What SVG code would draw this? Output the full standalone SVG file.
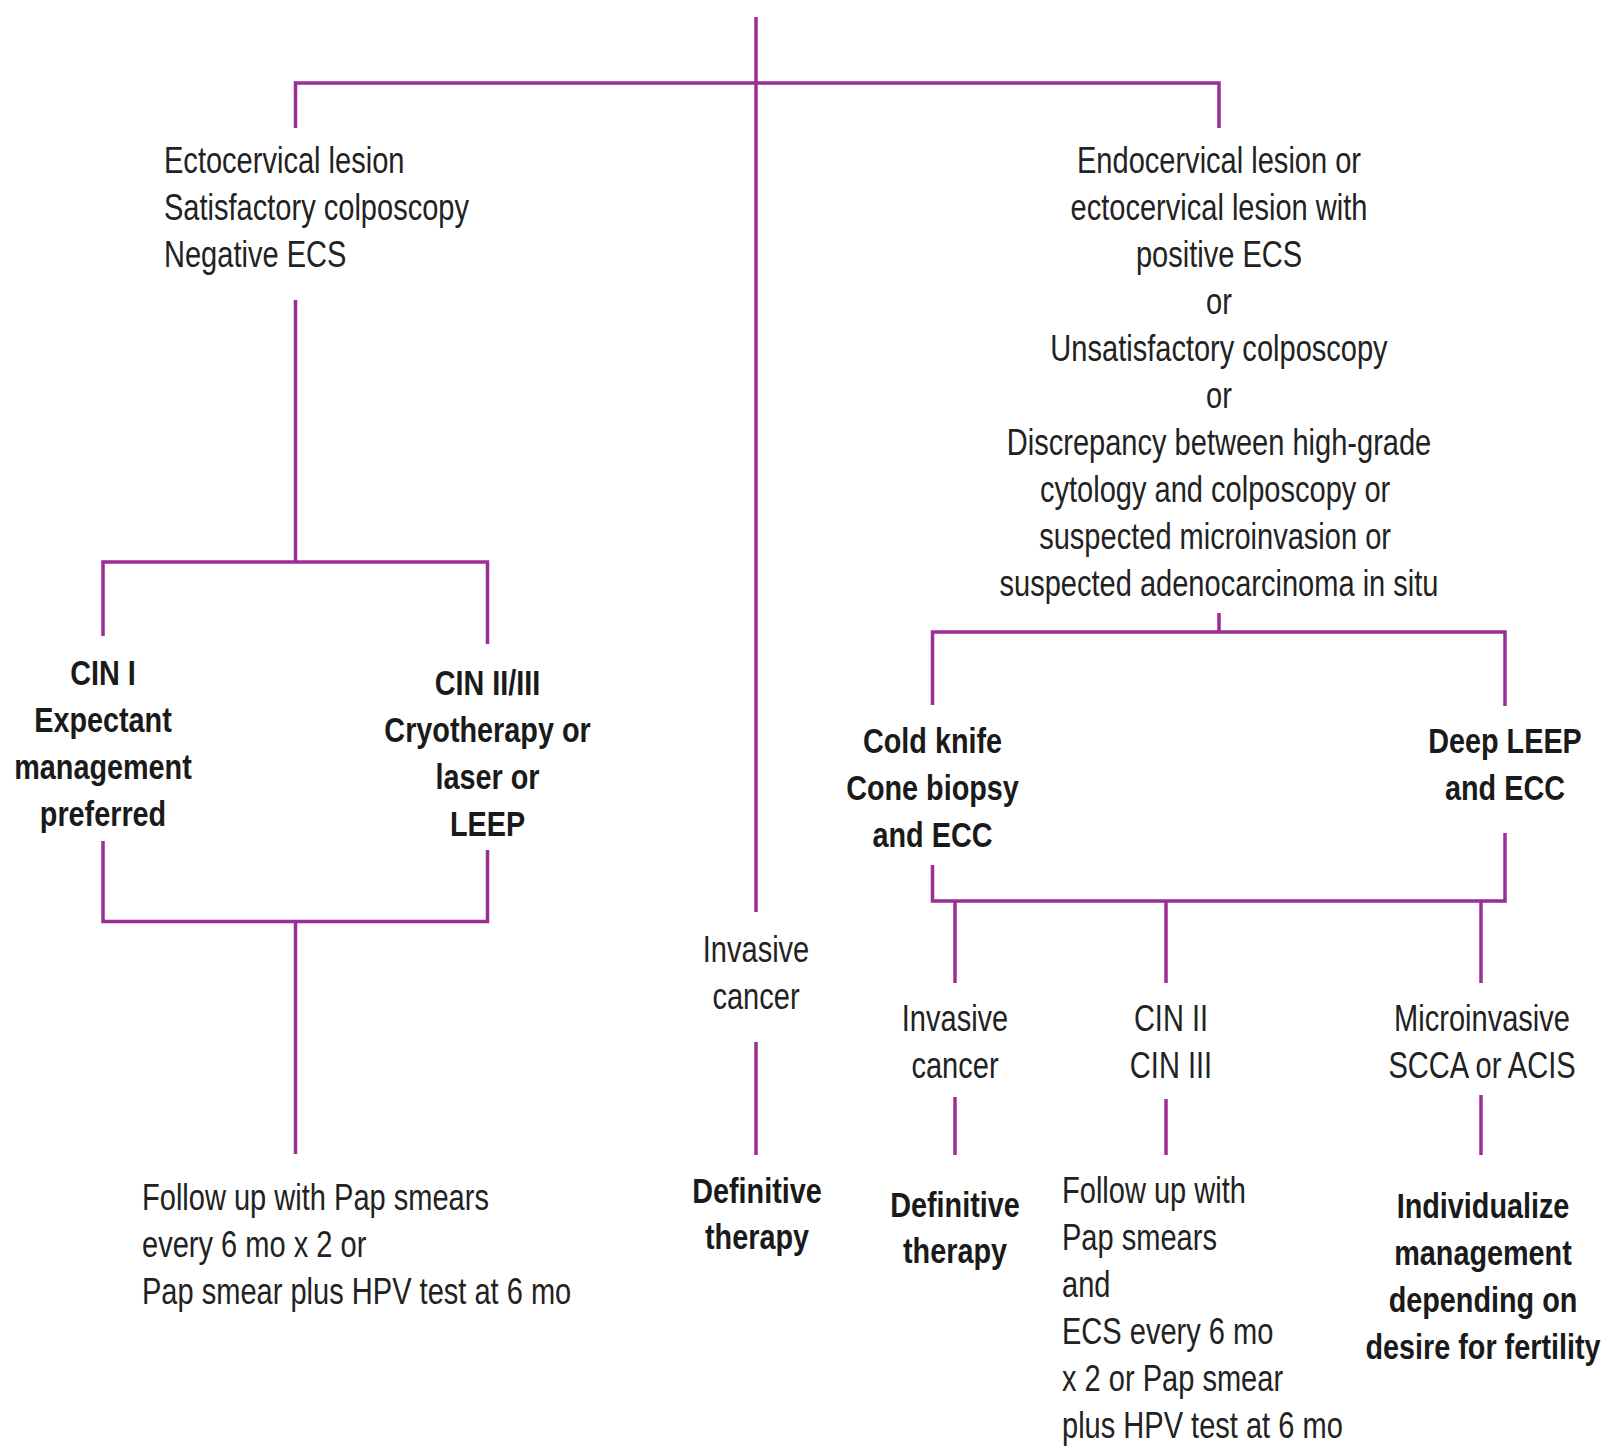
<svg xmlns="http://www.w3.org/2000/svg" width="1609" height="1448" viewBox="0 0 1609 1448">
<style>
.ln{fill:none;stroke:#9b2d96;stroke-width:3.5;stroke-linecap:butt;stroke-linejoin:miter}
.r{font-family:"Liberation Sans",Arial,sans-serif;font-size:37px;fill:#222}
.b{font-family:"Liberation Sans",Arial,sans-serif;font-size:36px;font-weight:bold;fill:#1a1a1a}
.c{text-anchor:middle}
</style>
<rect width="1609" height="1448" fill="#fff"/>
<g id="connectors">
<path class="ln" d="M756,17 V912"/>
<path class="ln" d="M295.5,128 V83 H1219 V128"/>
<path class="ln" d="M295.5,300 V562"/>
<path class="ln" d="M103,636 V562 H487.5 V644"/>
<path class="ln" d="M103,841 V921.5 H487.5 V850"/>
<path class="ln" d="M295.5,921.5 V1154"/>
<path class="ln" d="M756,1042 V1155"/>
<path class="ln" d="M1219,613 V632"/>
<path class="ln" d="M932.5,705 V632 H1505 V706"/>
<path class="ln" d="M932.5,865 V901 H1505 V833"/>
<path class="ln" d="M955,901 V983"/>
<path class="ln" d="M1166,901 V983"/>
<path class="ln" d="M1481,901 V983"/>
<path class="ln" d="M955,1097 V1155"/>
<path class="ln" d="M1166,1099 V1155"/>
<path class="ln" d="M1481,1095 V1155"/>
</g>
<g id="ectocervical">
<text class="r" transform="translate(164,0) scale(0.785 1)"><tspan x="0" y="173">Ectocervical lesion</tspan><tspan x="0" y="220">Satisfactory colposcopy</tspan><tspan x="0" y="267">Negative ECS</tspan></text>
</g>
<g id="endocervical">
<text class="r c" transform="translate(1219,0) scale(0.785 1)"><tspan x="0" y="173">Endocervical lesion or</tspan><tspan x="0" y="220">ectocervical lesion with</tspan><tspan x="0" y="267">positive ECS</tspan><tspan x="0" y="314">or</tspan><tspan x="0" y="361">Unsatisfactory colposcopy</tspan><tspan x="0" y="408">or</tspan><tspan x="0" y="455">Discrepancy between high-grade</tspan><tspan x="-5" y="502">cytology and colposcopy or</tspan><tspan x="-5" y="549">suspected microinvasion or</tspan><tspan x="0" y="596">suspected adenocarcinoma in situ</tspan></text>
</g>
<g id="cin1">
<text class="b c" transform="translate(103,0) scale(0.8 1)"><tspan x="0" y="685">CIN I</tspan><tspan x="0" y="732">Expectant</tspan><tspan x="0" y="779">management</tspan><tspan x="0" y="826">preferred</tspan></text>
</g>
<g id="cin23">
<text class="b c" transform="translate(487.5,0) scale(0.8 1)"><tspan x="0" y="695">CIN II/III</tspan><tspan x="0" y="742">Cryotherapy or</tspan><tspan x="0" y="789">laser or</tspan><tspan x="0" y="836">LEEP</tspan></text>
</g>
<g id="followup-left">
<text class="r" transform="translate(142,0) scale(0.785 1)"><tspan x="0" y="1210">Follow up with Pap smears</tspan><tspan x="0" y="1257">every 6 mo x 2 or</tspan><tspan x="0" y="1304">Pap smear plus HPV test at 6 mo</tspan></text>
</g>
<g id="invasive-center">
<text class="r c" transform="translate(756,0) scale(0.785 1)"><tspan x="0" y="962">Invasive</tspan><tspan x="0" y="1009">cancer</tspan></text>
</g>
<g id="definitive-center">
<text class="b c" transform="translate(757,0) scale(0.8 1)"><tspan x="0" y="1203">Definitive</tspan><tspan x="0" y="1249">therapy</tspan></text>
</g>
<g id="coldknife">
<text class="b c" transform="translate(932.5,0) scale(0.8 1)"><tspan x="0" y="753">Cold knife</tspan><tspan x="0" y="800">Cone biopsy</tspan><tspan x="0" y="847">and ECC</tspan></text>
</g>
<g id="deepleep">
<text class="b c" transform="translate(1505,0) scale(0.8 1)"><tspan x="0" y="753">Deep LEEP</tspan><tspan x="0" y="800">and ECC</tspan></text>
</g>
<g id="invasive-right">
<text class="r c" transform="translate(955,0) scale(0.785 1)"><tspan x="0" y="1031">Invasive</tspan><tspan x="0" y="1078">cancer</tspan></text>
</g>
<g id="cin-ii-iii">
<text class="r c" transform="translate(1171,0) scale(0.785 1)"><tspan x="0" y="1031">CIN II</tspan><tspan x="0" y="1078">CIN III</tspan></text>
</g>
<g id="microinvasive">
<text class="r c" transform="translate(1482,0) scale(0.785 1)"><tspan x="0" y="1031">Microinvasive</tspan><tspan x="0" y="1078">SCCA or ACIS</tspan></text>
</g>
<g id="definitive-right">
<text class="b c" transform="translate(955,0) scale(0.8 1)"><tspan x="0" y="1217">Definitive</tspan><tspan x="0" y="1263">therapy</tspan></text>
</g>
<g id="followup-right">
<text class="r" transform="translate(1062,0) scale(0.785 1)"><tspan x="0" y="1203">Follow up with</tspan><tspan x="0" y="1250">Pap smears</tspan><tspan x="0" y="1297">and</tspan><tspan x="0" y="1344">ECS every 6 mo</tspan><tspan x="0" y="1391">x 2 or Pap smear</tspan><tspan x="0" y="1438">plus HPV test at 6 mo</tspan></text>
</g>
<g id="individualize">
<text class="b c" transform="translate(1483,0) scale(0.8 1)"><tspan x="0" y="1218">Individualize</tspan><tspan x="0" y="1265">management</tspan><tspan x="0" y="1312">depending on</tspan><tspan x="0" y="1359">desire for fertility</tspan></text>
</g>
</svg>
